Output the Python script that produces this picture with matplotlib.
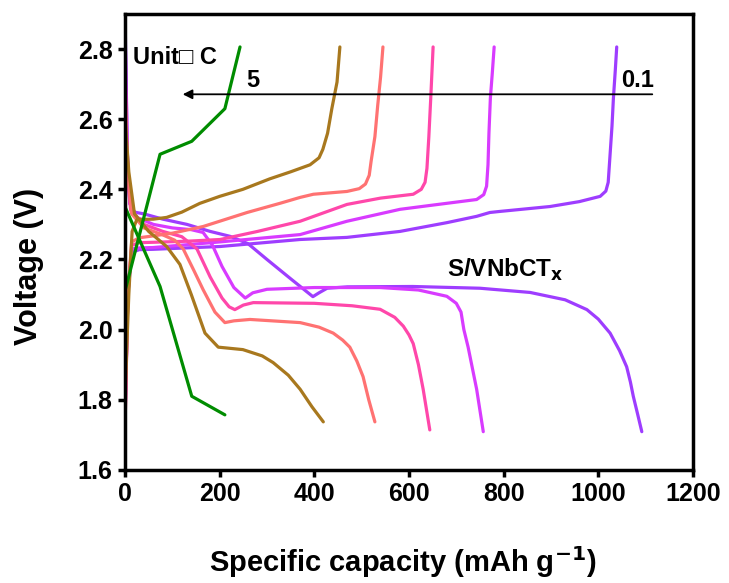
import matplotlib
matplotlib.use("Agg")
import matplotlib.pyplot as plt

# rates (C) and colours
rates = ["0.1", "0.2", "0.5", "1", "2", "5"]
colors = ["#9E3DFF", "#D83BFF", "#FF47AA", "#FF7272", "#A8781E", "#008C00"]

# discharge curves (capacity mAh/g, voltage V)
dis_x = [
    [0, 5, 10, 20, 40, 80, 131, 180, 222, 260, 300, 350, 397, 410, 427, 470, 608, 750, 856, 930,
     976, 1000, 1025, 1045, 1060, 1068, 1074, 1083, 1092],
    [0, 5, 10, 25, 60, 100, 140, 165, 185, 205, 230, 254, 270, 300, 400, 539, 620, 680, 700, 710,
     716, 725, 743, 757],
    [0, 5, 12, 40, 80, 120, 152, 180, 205, 220, 232, 250, 271, 400, 480, 539, 570, 588, 600, 609,
     620, 630, 644],
    [0, 5, 14, 40, 80, 105, 123, 145, 165, 190, 211, 230, 264, 370, 410, 440, 460, 475, 490, 503,
     515, 528],
    [0, 8, 20, 50, 88, 116, 140, 169, 197, 249, 290, 313, 345, 370, 395, 419],
    [0, 74, 141, 211],
]
dis_y = [
    [2.90, 2.50, 2.36, 2.335, 2.33, 2.315, 2.30, 2.28, 2.266, 2.245, 2.20, 2.145, 2.094, 2.105,
     2.118, 2.122, 2.123, 2.118, 2.106, 2.085, 2.057, 2.03, 1.99, 1.94, 1.894, 1.85, 1.81, 1.76, 1.709],
    [2.86, 2.50, 2.36, 2.32, 2.30, 2.29, 2.285, 2.277, 2.24, 2.18, 2.12, 2.09, 2.105, 2.115, 2.12,
     2.12, 2.113, 2.095, 2.075, 2.05, 2.0, 1.95, 1.83, 1.709],
    [2.75, 2.45, 2.34, 2.30, 2.28, 2.265, 2.23, 2.15, 2.09, 2.065, 2.057, 2.07, 2.077, 2.075, 2.068,
     2.058, 2.035, 2.01, 1.985, 1.96, 1.90, 1.83, 1.714],
    [2.70, 2.45, 2.33, 2.29, 2.27, 2.255, 2.23, 2.17, 2.114, 2.05, 2.02, 2.025, 2.029, 2.02, 2.007,
     1.99, 1.97, 1.95, 1.91, 1.866, 1.80, 1.737],
    [2.60, 2.45, 2.33, 2.28, 2.237, 2.186, 2.10, 1.99, 1.95, 1.943, 1.925, 1.906, 1.87, 1.83, 1.78,
     1.737],
    [2.35, 2.123, 1.81, 1.757],
]

# charge curves
chg_x = [
    [0, 6, 14, 30, 59, 201, 370, 469, 581, 680, 743, 771, 792, 898, 960, 1004, 1016, 1021, 1025,
     1029, 1032, 1036, 1039],
    [0, 6, 14, 30, 59, 200, 370, 469, 581, 650, 743, 758, 764, 767, 769, 772, 776, 780],
    [0, 6, 14, 30, 59, 130, 201, 280, 370, 469, 540, 609, 626, 634, 638, 642, 646, 651],
    [0, 6, 14, 30, 53, 100, 165, 258, 327, 370, 398, 469, 495, 508, 516, 520, 528, 534, 540, 545],
    [0, 8, 15, 25, 60, 88, 120, 158, 200, 249, 306, 350, 391, 410, 418, 428, 437, 448, 454],
    [0, 74, 141, 211, 243],
]
chg_y = [
    [1.75, 2.10, 2.22, 2.228, 2.229, 2.237, 2.257, 2.263, 2.28, 2.305, 2.323, 2.334, 2.337, 2.351,
     2.365, 2.38, 2.395, 2.42, 2.50, 2.58, 2.66, 2.74, 2.806],
    [1.74, 2.10, 2.23, 2.233, 2.234, 2.25, 2.271, 2.309, 2.343, 2.355, 2.371, 2.385, 2.409, 2.47,
     2.56, 2.66, 2.73, 2.806],
    [1.72, 2.10, 2.24, 2.248, 2.249, 2.252, 2.257, 2.28, 2.309, 2.357, 2.375, 2.386, 2.40, 2.42,
     2.46, 2.55, 2.66, 2.806],
    [1.72, 2.10, 2.25, 2.262, 2.266, 2.275, 2.294, 2.334, 2.36, 2.377, 2.386, 2.394, 2.402, 2.415,
     2.44, 2.48, 2.55, 2.64, 2.72, 2.806],
    [1.82, 2.10, 2.28, 2.314, 2.315, 2.32, 2.335, 2.36, 2.38, 2.40, 2.43, 2.45, 2.47, 2.49, 2.514,
     2.56, 2.63, 2.706, 2.806],
    [2.11, 2.50, 2.537, 2.63, 2.806],
]

plt.rcParams["font.family"] = ["Liberation Sans", "DejaVu Sans"]
plt.rcParams["font.weight"] = "bold"
plt.rcParams["mathtext.default"] = "bf"

fig = plt.figure(figsize=(7.29, 5.83), dpi=100)
ax = fig.add_axes([0.1715, 0.194, 0.779, 0.782])

for i in range(len(rates)):
    ax.plot(dis_x[i], dis_y[i], color=colors[i], lw=2.3, solid_joinstyle="round", solid_capstyle="round")
    ax.plot(chg_x[i], chg_y[i], color=colors[i], lw=2.3, solid_joinstyle="round", solid_capstyle="round")

ax.set_xlim(0, 1200)
ax.set_ylim(1.6, 2.9)
ax.set_xticks(range(0, 1201, 200))
ax.set_yticks([1.6, 1.8, 2.0, 2.2, 2.4, 2.6, 2.8])
ax.set_yticklabels(["1.6", "1.8", "2.0", "2.2", "2.4", "2.6", "2.8"])
for sp in ax.spines.values():
    sp.set_linewidth(2.5)
ax.tick_params(width=2.5, length=5, direction="out", labelsize=18, pad=4)
for lab in ax.get_xticklabels() + ax.get_yticklabels():
    lab.set_fontweight("bold")

fig.text(403 / 729, 11 / 583, "Specific capacity (mAh g$^{\\mathbf{-1}}$)", fontsize=21,
         fontweight="bold", ha="center", va="baseline")
fig.text(29 / 729, 1 - 266 / 583, "Voltage (V)", fontsize=22, fontweight="bold",
         rotation=90, ha="center", va="center")

ax.annotate("", xy=(116, 2.671), xytext=(1120, 2.671),
            arrowprops=dict(arrowstyle="-|>", color="black", lw=1.3, mutation_scale=14))
ax.text(16, 2.775, "Unit\u25a1 C", fontsize=17, fontweight="bold", ha="left", va="center")
ax.text(270, 2.71, "5", fontsize=17, fontweight="bold", ha="center", va="center")
ax.text(1082, 2.71, "0.1", fontsize=17, fontweight="bold", ha="center", va="center")
ax.text(803, 2.171, "S/VNbCT$_{\\mathbf{x}}$", fontsize=17.5, fontweight="bold", ha="center", va="center")

fig.savefig("out.png", dpi=100)
